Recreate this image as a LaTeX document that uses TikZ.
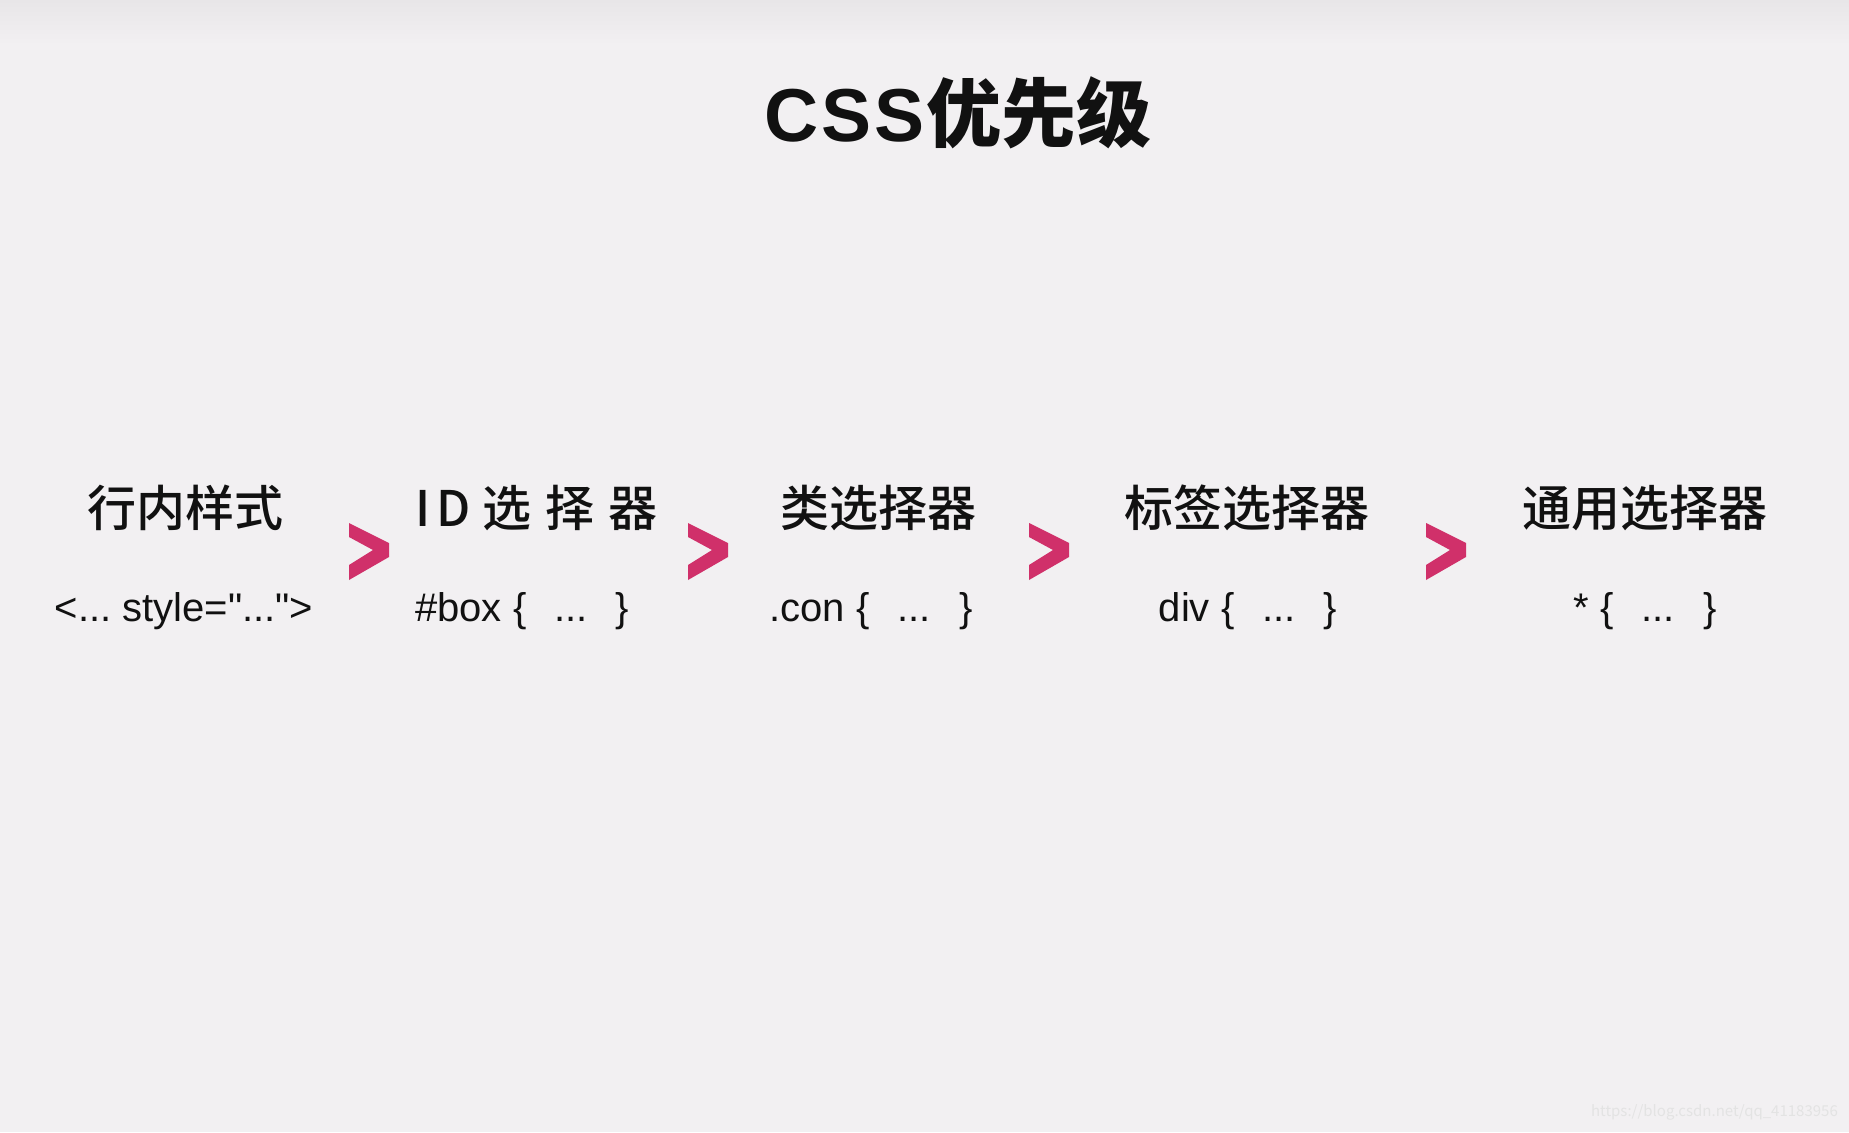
\documentclass[tikz,border=0pt]{standalone}
\usepackage{fontspec}
\setmainfont{Noto Sans CJK SC}
\newfontfamily\cjk{Noto Sans CJK SC}
\newfontfamily\cjkm{Noto Sans CJK SC Medium}
\newfontfamily\latb{Liberation Sans}
\newfontfamily\codefont{Liberation Sans}
\definecolor{bgc}{HTML}{F2F0F2}
\definecolor{topc}{HTML}{E8E6E8}
\definecolor{chev}{HTML}{D0306A}
\definecolor{txt}{HTML}{111111}
\newcommand{\gp}{\hspace{28pt}}
\begin{document}
\begin{tikzpicture}[x=1pt,y=-1pt,
  title/.style={font=\cjk\bfseries\fontsize{75}{80}\selectfont, text=txt, inner sep=0pt},
  head/.style={font=\cjkm\fontsize{49}{52}\selectfont, text=txt, inner sep=0pt},
  code/.style={font=\codefont\fontsize{40}{44}\selectfont, text=txt, inner sep=0pt},
  chevron/.style={fill=chev, draw=none}]
\useasboundingbox (0,0) rectangle (1849,1132);
\fill[bgc] (0,0) rectangle (1849,1132);
\shade[top color=topc, bottom color=bgc] (0,0) rectangle (1849,45);

\node[title] (t) at (958,113) {{\latb\bfseries C\hspace{3pt}S\hspace{3pt}S}\hspace{2pt}优先级};

\node[head] (h1) at (185,508) {行内样式};
\node[head, anchor=west] (h2) at (415,508) {I\hspace{6pt}D\hspace{12pt}选\hspace{14pt}择\hspace{14pt}器};
\node[head] (h3) at (878,508) {类选择器};
\node[head] (h4) at (1247,508) {标签选择器};
\node[head] (h5) at (1645,508) {通用选择器};

\node[code] (c1) at (184,611) {<...\ style="...">};
\node[code, anchor=west] (c2) at (415,611) {\#box \{\gp...\gp\}};
\node[code] (c3) at (871,611) {.con \{\gp...\gp\}};
\node[code] (c4) at (1248,611) {div \{\gp...\gp\}};
\node[code] (c5) at (1645,611) {*\ \{\gp...\gp\}};

\foreach \x in {348,687,1028,1425} {
  \fill[chevron] (\x+1,523) -- (\x+41,543) -- (\x+41,557) -- (\x+1,580)
     -- (\x+1,565) -- (\x+25,550) -- (\x+1,537) -- cycle;
}

\node[font=\fontsize{15}{16}\selectfont, text=black!11, anchor=east, inner sep=0pt] (wm) at (1838,1112) {https://blog.csdn.net/qq\_41183956};
\end{tikzpicture}
\end{document}
